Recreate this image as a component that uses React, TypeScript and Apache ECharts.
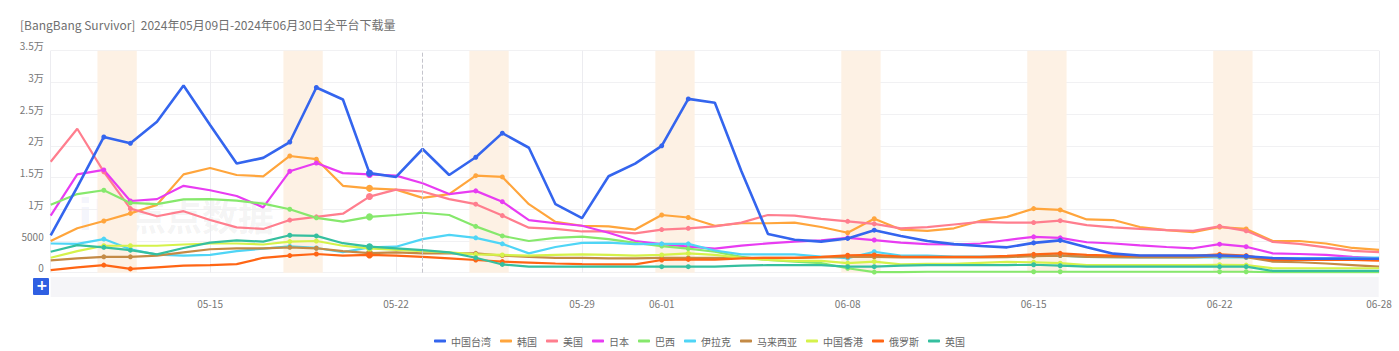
import React, { useEffect, useRef } from "react";
import * as echarts from "echarts";

const dates = [
  "05-09","05-10","05-11","05-12","05-13","05-14","05-15","05-16","05-17","05-18",
  "05-19","05-20","05-21","05-22","05-23","05-24","05-25","05-26","05-27","05-28",
  "05-29","05-30","05-31","06-01","06-02","06-03","06-04","06-05","06-06","06-07",
  "06-08","06-09","06-10","06-11","06-12","06-13","06-14","06-15","06-16","06-17",
  "06-18","06-19","06-20","06-21","06-22","06-23","06-24","06-25","06-26","06-27",
  "06-28",
];

const labelDates = ["05-15", "05-22", "05-29", "06-01", "06-08", "06-15", "06-22", "06-28"];
const weekendDates = [
  "05-11","05-12","05-18","05-19","05-25","05-26","06-01","06-02",
  "06-08","06-09","06-15","06-16","06-22","06-23",
];
const weekendBands = [
  ["05-11", "05-12"], ["05-18", "05-19"], ["05-25", "05-26"], ["06-01", "06-02"],
  ["06-08", "06-09"], ["06-15", "06-16"], ["06-22", "06-23"],
];
const hoverDate = "05-21";
const pointerDate = "05-23";

const yTicks = [0, 5000, 10000, 15000, 20000, 25000, 30000, 35000];

const taiwan = [5900,13500,21400,20400,23800,29500,23300,17200,18100,20600,29200,27300,15700,15100,19500,15400,18200,22000,19700,10800,8600,15200,17200,20000,27400,26800,16000,6100,5200,4900,5400,6700,5800,5000,4500,4200,4000,4700,5100,4000,3000,2700,2700,2700,2700,2600,2300,2200,2200,2200,2200];
const korea = [5000,7000,8150,9350,10700,15500,16500,15400,15200,18400,17900,13700,13300,13100,11800,12400,15300,15100,10800,8000,7400,7300,6800,9100,8700,7400,7800,7800,7900,7200,6300,8500,6800,6600,7000,8200,8800,10100,9900,8400,8300,7200,6700,6400,7200,6900,5000,5000,4600,3900,3600];
const usa = [17500,22700,15900,10100,8900,9700,8300,7150,6900,8300,8800,9300,12000,13100,12800,11600,10800,9000,7100,6900,6500,6500,6200,6800,7000,7300,7900,9100,9000,8500,8100,7700,7000,7200,7600,8000,7900,7900,8200,7500,7150,6900,6700,6600,7300,6600,4850,4550,4000,3450,3250];
const japan = [9000,15500,16200,11300,11600,13700,13000,12100,10300,16000,17300,15700,15500,15300,14100,12400,12900,11200,8300,7800,7400,6300,5000,4500,4100,3800,4260,4620,4900,5100,5500,5150,4730,4500,4450,4600,5150,5650,5500,4800,4600,4300,4050,3850,4500,4100,3050,2950,2800,2500,2250];
const brazil = [10700,12400,13000,11000,10800,11550,11600,11350,10900,10000,8650,8050,8800,9100,9450,9100,7300,5800,5000,5500,5700,5300,4700,4200,3800,3300,2500,2000,1750,1500,700,100,100,150,150,150,150,150,150,150,150,150,150,150,150,150,80,80,80,80,80];
const iraq = [4600,4550,5300,3700,2850,2700,2800,3400,3800,4150,3900,3250,4000,4100,5300,5950,5500,4550,3050,4050,4700,4750,4500,4550,4550,3500,2900,2900,2900,2550,2300,3300,2700,2700,2550,2550,2550,2800,2700,2500,2450,2400,2400,2400,2450,2400,2300,2300,2300,2350,2400];
const malaysia = [1950,2250,2500,2500,2700,3200,3700,3850,3850,4000,3850,3400,3100,3200,3050,3050,3050,2700,2500,2350,2350,2250,2250,2350,2350,2350,2350,2350,2350,2400,2500,2500,2400,2400,2400,2400,2450,2600,2700,2500,2450,2400,2400,2400,2600,2450,1750,1650,1450,1200,950];
const hongkong = [2350,3400,4250,4250,4250,4450,4600,4600,4450,4900,5000,4250,3850,3600,3400,3200,2900,2800,2700,2800,2900,2800,2700,2800,3050,2800,2350,2000,1850,1850,1500,1750,1300,1400,1400,1550,1700,1650,1500,1200,1200,1200,1200,1200,1250,1200,700,700,700,700,700];
const russia = [400,850,1200,600,850,1100,1200,1350,2350,2700,2950,2700,2800,2700,2500,2250,2000,1750,1600,1450,1350,1300,1300,2000,2100,2050,2250,2350,2350,2500,2750,2800,2550,2500,2500,2500,2650,2900,3050,2800,2700,2650,2650,2650,2900,2700,2000,2000,2000,2000,1900];
const uk = [3300,4350,4000,3550,2900,3900,4750,5100,4900,5900,5800,4650,4100,3850,3550,3200,2350,1300,950,950,950,950,950,950,950,950,1100,1200,1200,1200,950,950,1100,1200,1200,1200,1200,1250,1100,950,950,950,950,950,950,950,280,280,280,280,280];

const seriesNames = ["中国台湾", "韩国", "美国", "日本", "巴西", "伊拉克", "马来西亚", "中国香港", "俄罗斯", "英国"];
const seriesValues = [taiwan, korea, usa, japan, brazil, iraq, malaysia, hongkong, russia, uk];
const seriesColors = ["#3465ee", "#ffa53c", "#ff7e8e", "#e83cf2", "#86e86c", "#4fd5f6", "#c48a45", "#d5f24b", "#ff6514", "#35bf9f"];

const titleText = "[BangBang Survivor]  2024年05月09日-2024年06月30日全平台下载量";

export default function App() {
  const ref = useRef<HTMLDivElement>(null);

  useEffect(() => {
    if (!ref.current) return;
    const chart = echarts.init(ref.current, null, { renderer: "svg" });
    const font = "'Noto Sans CJK SC', 'Noto Sans', sans-serif";
    const labelIdx = new Set(labelDates.map((d) => dates.indexOf(d)));
    const splitIdx = new Set([0, ...labelIdx]);
    const weekendIdx = new Set(weekendDates.map((d) => dates.indexOf(d)));
    const hoverIdx = dates.indexOf(hoverDate);

    const lineSeries = seriesNames.map((name, i) => ({
      name,
      type: "line",
      data: seriesValues[i],
      xAxisIndex: 0,
      yAxisIndex: 0,
      z: i === 0 ? 4 : 3,
      symbol: "circle",
      showSymbol: true,
      showAllSymbol: true,
      symbolSize: (_v: any, p: any) =>
        p.dataIndex === hoverIdx ? 7 : weekendIdx.has(p.dataIndex) ? 5 : 0,
      lineStyle: { width: i === 0 ? 2.6 : 2.2, color: seriesColors[i] },
      itemStyle: { color: seriesColors[i] },
      emphasis: { disabled: true },
    }));

    const bandSeries = {
      name: "bands",
      type: "line",
      xAxisIndex: 1,
      yAxisIndex: 0,
      data: [],
      z: 1,
      silent: true,
      markArea: {
        silent: true,
        itemStyle: { color: "#fdf1e4" },
        data: weekendBands.map(([a, b]) => [
          { xAxis: dates.indexOf(a) - 0.24 },
          { xAxis: dates.indexOf(b) + 0.24 },
        ]),
      },
      markLine: {
        silent: true,
        symbol: ["none", "none"],
        label: { show: false },
        lineStyle: { type: "dashed", color: "#c4c4cc", width: 1 },
        data: [{ xAxis: dates.indexOf(pointerDate) }],
      },
    };

    chart.setOption({
      animation: false,
      color: seriesColors,
      textStyle: { fontFamily: font },
      title: {
        text: titleText,
        left: 20,
        top: 18,
        padding: 0,
        textStyle: { fontSize: 12, fontWeight: "normal", color: "#6f6f6f", fontFamily: font },
      },
      legend: {
        data: seriesNames,
        left: "center",
        top: 331,
        icon: "roundRect",
        itemWidth: 12,
        itemHeight: 3,
        itemGap: 9,
        textStyle: { fontSize: 10, color: "#666", fontFamily: font },
      },
      grid: { left: 50.7, right: 20, top: 50.7, bottom: 78.3, containLabel: false },
      xAxis: [
        {
          type: "category",
          data: dates,
          boundaryGap: false,
          axisLine: { show: false },
          axisTick: { show: false },
          axisLabel: {
            interval: (idx: number) => labelIdx.has(idx),
            margin: 26,
            fontSize: 10,
            color: "#777",
            fontFamily: font,
          },
          splitLine: {
            show: true,
            interval: (idx: number) => splitIdx.has(idx),
            lineStyle: { color: "#ececf0", width: 1 },
          },
        },
        {
          type: "value",
          min: 0,
          max: dates.length - 1,
          show: false,
          position: "bottom",
        },
      ],
      yAxis: {
        type: "value",
        min: yTicks[0],
        max: yTicks[yTicks.length - 1],
        interval: yTicks[1] - yTicks[0],
        axisLine: { show: false },
        axisTick: { show: false },
        axisLabel: {
          fontSize: 10,
          color: "#777",
          margin: 7,
          verticalAlign: "bottom",
          fontFamily: font,
          formatter: (v: number) => (v >= 10000 ? `${v / 10000}万` : `${v}`),
        },
        splitLine: { lineStyle: { color: "#f1f1f3", width: 1 } },
      },
      graphic: [
        {
          type: "rect",
          left: 50.7,
          top: 277,
          shape: { width: 1328, height: 20 },
          style: { fill: "#f5f5f8" },
          silent: true,
        },
        {
          type: "rect",
          left: 33,
          top: 278,
          shape: { width: 16, height: 17, r: 1 },
          style: { fill: "#2f5fe2" },
          silent: true,
        },
        {
          type: "text",
          left: 36,
          top: 278,
          style: { text: "+", fill: "#fff", fontSize: 14, fontWeight: "bold", fontFamily: "DejaVu Sans" },
          silent: true,
        },
        {
          type: "text",
          left: 78,
          top: 194,
          z: -10,
          style: { text: "iD", fill: "rgba(80,110,220,0.07)", fontSize: 42, fontWeight: "bold", fontFamily: "DejaVu Sans" },
          silent: true,
        },
        {
          type: "text",
          left: 130,
          top: 197,
          z: -10,
          style: { text: "点点数据", fill: "rgba(110,110,110,0.08)", fontSize: 36, fontWeight: "bold", fontFamily: "'Noto Sans CJK SC'" },
          silent: true,
        },
      ],
      series: [bandSeries, ...lineSeries],
    });
    return () => chart.dispose();
  }, []);

  return (
    <div
      ref={ref}
      style={{ position: "fixed", left: 0, top: 0, width: 1399, height: 351, background: "#fff" }}
    />
  );
}
